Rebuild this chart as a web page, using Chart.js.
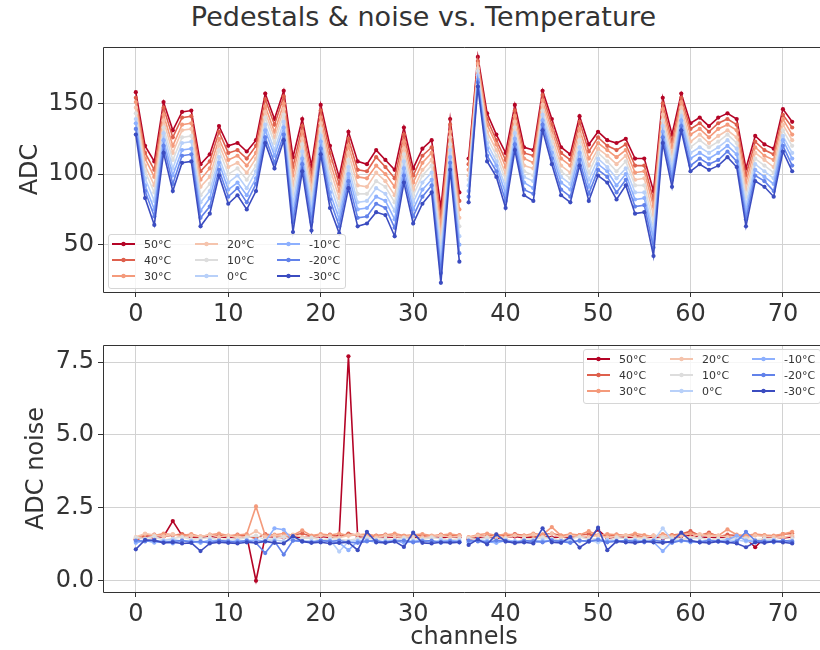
<!DOCTYPE html>
<html lang="en">
<head>
<meta charset="UTF-8">
<title>Pedestals &amp; noise vs. Temperature</title>
<script src="https://cdn.jsdelivr.net/npm/chart.js"></script>
<style>
  html, body { margin: 0; padding: 0; background: #fff; width: 820px; height: 650px; overflow: hidden; }
  body { position: relative; font-family: "DejaVu Sans", sans-serif; color: #333; }
  #title { position: absolute; left: 0; top: 1px; width: 847px; text-align: center; font-size: 27px; }
  .plot { position: absolute; left: 0; width: 840px; }
  .plot canvas { display: block; width: 840px; }
  .legend {
    position: absolute; box-sizing: border-box; width: 238px; height: 55px;
    background: rgba(255,255,255,0.8); border: 1px solid #d6d6d6; border-radius: 3px;
    display: grid; grid-template-columns: 83px 82px auto; grid-template-rows: repeat(3, 16px);
    padding: 1px 4px 0 3px;
  }
  .legend .item { display: flex; align-items: center; font-size: 11px; white-space: nowrap; }
  .legend .item span { margin-left: 9px; }
</style>
</head>
<body>
  <div id="title">Pedestals &amp; noise vs. Temperature</div>

  <div class="plot" style="top:40px"><canvas id="pedChart" width="840" height="290"></canvas></div>
  <div class="plot" style="top:330px"><canvas id="noiseChart" width="840" height="320"></canvas></div>

  <div id="pedLegend" class="legend" style="left:108px; top:234px"></div>
  <div id="noiseLegend" class="legend" style="left:583px; top:349px"></div>

<script>
const channels = Array.from({length: 72}, (_, i) => i);
const gapAfter = 35; // channels 0-35 and 36-71 are two separate chips, no line between them

const temps = ['50°C', '40°C', '30°C', '20°C', '10°C', '0°C', '-10°C', '-20°C', '-30°C'];

const channelTicks = [0, 10, 20, 30, 40, 50, 60, 70];
const pedTicks = [50, 100, 150];
const noiseTicks = [0, 2.5, 5, 7.5];

// pedestal (ADC counts) per channel
const ped50 = [
  158,120,109,151,131,144,145,107,114,134,120,122,
  116,124,157,139,159,112,139,106,149,120,98,130,
  109,107,117,110,103,133,104,118,124,76,139,87,
  111,183,143,128,115,149,119,117,159,139,119,114,
  141,121,130,124,122,125,111,111,88,154,128,157,
  136,140,134,140,143,139,104,127,121,118,146,137];
const ped40 = [
  154,115,103,147,126,140,141,102,109,130,115,117,
  111,120,153,135,155,105,134,100,145,115,93,125,
  103,102,112,105,97,128,99,113,119,69,135,81,
  107,180,139,124,110,145,115,113,156,135,115,110,
  137,116,126,120,117,121,106,106,82,150,123,154,
  132,136,130,136,139,135,99,123,117,114,142,133];
const ped30 = [
  151,111,98,142,120,135,136,96,104,125,110,113,
  106,115,148,130,150,99,130,95,140,109,88,120,
  98,97,106,100,91,123,94,108,115,63,130,75,
  103,178,135,121,105,141,111,108,152,131,111,106,
  132,111,122,117,112,117,101,102,77,146,119,151,
  128,132,126,132,135,131,94,119,113,110,139,128];
const ped20 = [
  147,106,92,138,115,131,132,91,98,121,105,108,
  101,111,144,126,146,92,125,89,136,104,83,115,
  92,91,101,95,85,118,89,103,110,56,126,69,
  99,175,130,117,100,137,106,104,149,127,106,101,
  128,106,118,113,107,113,96,97,71,142,114,147,
  123,128,122,127,131,126,89,115,110,105,135,124];
const ped10 = [
  143,102,87,133,110,126,127,85,93,117,100,104,
  96,106,140,122,142,86,121,83,132,98,78,110,
  86,86,95,91,80,114,85,99,106,50,121,63,
  96,173,126,113,96,133,102,99,145,123,102,97,
  124,101,115,109,102,109,92,92,65,138,110,144,
  119,124,119,123,128,122,84,111,106,101,131,120];
const ped0 = [
  139,97,81,129,104,122,123,80,88,112,94,99,
  90,102,135,117,137,79,116,77,127,93,73,105,
  80,81,90,86,74,109,80,94,101,43,117,56,
  92,170,122,109,91,129,98,95,142,119,98,93,
  119,96,111,105,97,104,87,87,59,134,105,141,
  115,119,115,119,124,118,78,107,102,97,127,115];
const pedM10 = [
  136,92,75,124,99,117,118,74,83,108,89,94,
  85,97,131,113,133,72,111,72,123,87,68,100,
  75,76,84,81,68,104,75,89,96,36,112,50,
  88,167,118,106,86,125,94,90,138,115,94,89,
  115,91,107,102,92,100,82,83,54,130,100,138,
  111,115,111,115,120,114,73,103,98,93,124,111];
const pedM20 = [
  132,88,70,120,93,113,114,69,77,103,84,90,
  80,93,126,108,128,66,107,66,118,82,63,95,
  69,70,79,76,62,99,70,84,92,30,108,44,
  84,165,113,102,81,121,89,86,135,111,89,84,
  110,86,103,98,87,96,77,78,48,126,96,134,
  106,111,107,110,116,109,68,99,95,88,120,106];
const pedM30 = [
  128,83,64,115,88,108,109,63,72,99,79,85,
  75,88,122,104,124,59,102,60,114,76,58,90,
  63,65,73,71,56,94,65,79,87,23,103,38,
  80,162,109,98,76,117,85,81,131,107,85,80,
  106,81,99,94,82,92,72,73,42,122,91,131,
  102,107,103,106,112,105,63,95,91,84,116,102];

// noise (ADC rms) per channel
const noise50 = [
  1.42,1.50,1.48,1.52,2.05,1.55,1.50,1.47,1.52,1.49,1.50,1.46,
  1.53,0.00,1.52,1.50,1.48,1.51,1.47,1.50,1.52,1.49,1.55,7.70,
  1.50,1.47,1.52,1.50,1.49,1.53,1.48,1.50,1.52,1.47,1.51,1.49,
  1.42,1.48,1.50,1.45,1.49,1.52,1.47,1.50,1.54,1.48,1.50,1.47,
  1.52,1.49,1.75,1.46,1.50,1.48,1.51,1.47,1.50,1.45,1.49,1.52,
  1.55,1.48,1.50,1.47,1.51,1.49,1.45,1.15,1.48,1.50,1.47,1.50];
const noise40 = [
  1.40,1.55,1.58,1.52,1.56,1.60,1.53,1.50,1.57,1.55,1.52,1.58,
  1.54,1.45,1.60,1.55,1.50,1.57,1.62,1.53,1.55,1.58,1.50,1.62,
  1.56,1.52,1.55,1.58,1.54,1.50,1.57,1.55,1.52,1.58,1.54,1.56,
  1.45,1.55,1.52,1.58,1.54,1.60,1.55,1.52,1.58,1.62,1.55,1.50,
  1.57,1.60,1.55,1.52,1.58,1.54,1.56,1.50,1.55,1.48,1.57,1.60,
  1.70,1.55,1.65,1.52,1.58,1.55,1.50,1.57,1.55,1.52,1.60,1.62];
const noise30 = [
  1.45,1.60,1.55,1.62,1.58,1.55,1.60,1.52,1.58,1.62,1.55,1.57,
  1.60,2.55,1.55,1.58,1.62,1.56,1.73,1.55,1.60,1.57,1.62,1.55,
  1.58,1.60,1.54,1.57,1.62,1.55,1.58,1.60,1.55,1.57,1.60,1.56,
  1.50,1.58,1.62,1.55,1.60,1.57,1.55,1.62,1.58,1.84,1.55,1.60,
  1.57,1.70,1.55,1.60,1.58,1.55,1.62,1.57,1.52,1.60,1.55,1.58,
  1.62,1.57,1.60,1.55,1.76,1.58,1.55,1.60,1.57,1.55,1.60,1.68];
const noise20 = [
  1.50,1.62,1.57,1.52,1.60,1.48,1.55,1.52,1.58,1.50,1.55,1.48,
  1.52,1.70,1.50,1.55,1.52,1.58,1.50,1.47,1.55,1.52,1.48,1.55,
  1.60,1.50,1.48,1.55,1.52,1.50,1.55,1.48,1.52,1.55,1.50,1.52,
  1.48,1.55,1.50,1.52,1.48,1.55,1.52,1.58,1.50,1.62,1.48,1.55,
  1.52,1.50,1.55,1.48,1.52,1.57,1.50,1.48,1.55,1.52,1.50,1.55,
  1.48,1.60,1.52,1.55,1.50,1.52,1.48,1.55,1.52,1.50,1.48,1.55];
const noise10 = [
  1.48,1.45,1.52,1.40,1.45,1.50,1.42,1.45,1.48,1.40,1.45,1.42,
  1.48,1.55,1.40,1.45,1.50,1.42,1.45,1.48,1.40,1.45,1.42,1.38,
  1.45,1.48,1.42,1.45,1.40,1.47,1.45,1.42,1.48,1.45,1.40,1.45,
  1.45,1.42,1.48,1.40,1.45,1.28,1.45,1.42,1.48,1.45,1.40,1.45,
  1.50,1.42,1.45,1.35,1.48,1.45,1.42,1.45,1.40,1.48,1.45,1.42,
  1.45,1.48,1.40,1.45,1.42,1.48,1.45,1.40,1.45,1.42,1.30,1.45];
const noise0 = [
  1.35,1.40,1.30,1.38,1.42,1.35,1.38,1.32,1.40,1.35,1.38,1.32,
  1.40,1.38,1.35,1.40,1.36,1.40,1.35,1.38,1.32,1.40,1.00,1.35,
  1.38,1.40,1.35,1.32,1.38,1.40,1.35,1.38,1.32,1.40,1.35,1.38,
  1.35,1.40,1.38,1.32,1.40,1.35,1.38,1.30,1.40,1.35,1.38,1.40,
  1.35,1.38,1.32,1.40,1.35,1.38,1.40,1.35,1.38,1.80,1.40,1.35,
  1.38,1.32,1.40,1.35,1.38,1.40,1.35,1.32,1.38,1.40,1.35,1.38];
const noiseM10 = [
  1.30,1.38,1.32,1.35,1.28,1.38,1.35,1.30,1.38,1.35,1.32,1.38,
  1.35,1.40,1.35,1.80,1.75,1.38,1.35,1.32,1.38,1.35,1.30,1.05,
  1.35,1.38,1.32,1.35,1.38,1.30,1.35,1.38,1.32,1.35,1.38,1.35,
  1.32,1.38,1.35,1.30,1.38,1.35,1.32,1.38,1.35,1.40,1.35,1.32,
  1.38,1.35,1.42,1.35,1.38,1.32,1.35,1.38,1.32,1.02,1.35,1.38,
  1.32,1.35,1.38,1.35,1.40,1.55,1.38,1.35,1.32,1.38,1.35,1.32];
const noiseM20 = [
  1.38,1.35,1.40,1.32,1.35,1.38,1.32,1.35,1.30,1.38,1.35,1.32,
  1.38,1.30,0.95,1.35,0.90,1.38,1.35,1.32,1.38,1.35,1.38,1.32,
  1.30,1.35,1.38,1.32,1.35,1.38,1.32,1.35,1.38,1.30,1.35,1.32,
  1.38,1.35,1.32,1.38,1.35,1.30,1.38,1.35,1.32,1.38,1.35,1.30,
  1.38,1.35,1.40,1.32,1.35,1.38,1.35,1.32,1.38,1.35,1.30,1.38,
  1.35,1.32,1.38,1.35,1.30,1.35,1.68,1.38,1.35,1.32,1.38,1.35];
const noiseM30 = [
  1.08,1.40,1.38,1.30,1.32,1.28,1.30,1.02,1.28,1.32,1.30,1.28,
  1.32,1.30,1.35,1.30,1.28,1.53,1.35,1.30,1.32,1.28,1.30,1.32,
  1.05,1.68,1.32,1.30,1.35,1.16,1.65,1.30,1.28,1.32,1.30,1.32,
  1.23,1.42,1.25,1.59,1.35,1.30,1.32,1.28,1.80,1.32,1.30,1.50,
  1.14,1.35,1.82,1.05,1.35,1.32,1.30,1.35,1.32,1.30,1.35,1.65,
  1.38,1.32,1.30,1.35,1.32,1.28,1.15,1.32,1.30,1.35,1.32,1.28];

const pedSeries = [ped50, ped40, ped30, ped20, ped10, ped0, pedM10, pedM20, pedM30];
const noiseSeries = [noise50, noise40, noise30, noise20, noise10, noise0, noiseM10, noiseM20, noiseM30];

// coolwarm, hot to cold
const colors = [
  'rgb(180,4,38)', 'rgb(222,96,77)', 'rgb(244,154,123)', 'rgb(245,196,173)', 'rgb(221,221,221)',
  'rgb(184,208,249)', 'rgb(141,176,254)', 'rgb(98,130,234)', 'rgb(59,76,192)'
];

const textColor = '#333';
const gridColor = '#d2d2d2';
const tickFont = { family: 'DejaVu Sans', size: 24 };

// left, top and bottom spines; the right spine sits past the page edge
const framePlugin = {
  id: 'frame',
  afterDatasetsDraw(chart) {
    const { ctx } = chart;
    const xs = chart.scales.x, ys = chart.scales.y;
    const l = Math.round(xs.left) + 0.5;
    const r = Math.round(xs.right);
    const t = Math.round(ys.top) + 0.5;
    const b = Math.round(ys.bottom) + 0.5;
    ctx.save();
    ctx.strokeStyle = textColor;
    ctx.lineWidth = 1;
    ctx.beginPath();
    ctx.moveTo(r, t); ctx.lineTo(l, t); ctx.lineTo(l, b); ctx.lineTo(r, b);
    ctx.stroke();
    ctx.restore();
  }
};

function makeDatasets(series) {
  return series.map((vals, i) => ({
    label: temps[i],
    data: vals.map((v, k) => ({ x: channels[k], y: v })),
    borderColor: colors[i],
    backgroundColor: colors[i],
    borderWidth: 1.6,
    pointRadius: 2.1,
    pointBorderWidth: 0,
    pointHoverRadius: 0,
    tension: 0,
    order: series.length - i,   // colder curves on top
    segment: {
      borderColor: c => (c.p0DataIndex === gapAfter ? 'rgba(0,0,0,0)' : undefined)
    }
  }));
}

function makeChart(id, series, cfg) {
  return new Chart(document.getElementById(id), {
    type: 'line',
    data: { datasets: makeDatasets(series) },
    plugins: [framePlugin],
    options: {
      responsive: false,
      animation: false,
      devicePixelRatio: 1,
      layout: { padding: { top: cfg.padTop, right: 15, left: 0, bottom: 0 } },
      plugins: { legend: { display: false }, tooltip: { enabled: false } },
      scales: {
        x: {
          type: 'linear',
          min: -3.55,
          max: 74.55,
          afterBuildTicks: s => { s.ticks = channelTicks.map(v => ({ value: v })); },
          afterFit: s => { s.height = cfg.xHeight; s.paddingLeft = 0; s.paddingRight = 0; },
          grid: { color: gridColor, tickColor: textColor, tickLength: 5 },
          border: { display: false },
          ticks: { color: textColor, font: tickFont, padding: 3, maxRotation: 0 },
          title: {
            display: !!cfg.xTitle,
            text: cfg.xTitle || '',
            color: textColor,
            font: tickFont,
            padding: { top: 0, bottom: -2 }
          }
        },
        y: {
          min: cfg.yMin,
          max: cfg.yMax,
          afterBuildTicks: s => { s.ticks = cfg.yTicks.map(v => ({ value: v })); },
          afterFit: s => { s.width = 103; s.paddingTop = 0; s.paddingBottom = 0; },
          grid: { color: gridColor, tickColor: textColor, tickLength: 5 },
          border: { display: false },
          ticks: { color: textColor, font: tickFont, padding: 4, callback: cfg.yFmt },
          title: {
            display: true,
            text: cfg.yTitle,
            color: textColor,
            font: tickFont,
            padding: { top: cfg.yTitlePad, bottom: 0 }
          }
        }
      }
    }
  });
}

makeChart('pedChart', pedSeries, {
  padTop: 7, xHeight: 38,
  yMin: 16.5, yMax: 190, yTicks: pedTicks,
  yFmt: v => String(v), yTitle: 'ADC', yTitlePad: 16
});

makeChart('noiseChart', noiseSeries, {
  padTop: 15, xHeight: 58,
  yMin: -0.385, yMax: 8.085, yTicks: noiseTicks,
  yFmt: v => v.toFixed(1), yTitle: 'ADC noise', yTitlePad: 22,
  xTitle: 'channels'
});

// legends are filled column by column, three entries per column
function buildLegend(id) {
  const box = document.getElementById(id);
  temps.forEach((t, i) => {
    const item = document.createElement('div');
    item.className = 'item';
    item.style.gridRow = String((i % 3) + 1);
    item.style.gridColumn = String(Math.floor(i / 3) + 1);
    item.innerHTML =
      '<svg width="23" height="6"><line x1="0" y1="3" x2="23" y2="3" stroke="' + colors[i] +
      '" stroke-width="2"/><circle cx="11.5" cy="3" r="2.2" fill="' + colors[i] + '"/></svg>' +
      '<span>' + t + '</span>';
    box.appendChild(item);
  });
}
buildLegend('pedLegend');
buildLegend('noiseLegend');
</script>
</body>
</html>
